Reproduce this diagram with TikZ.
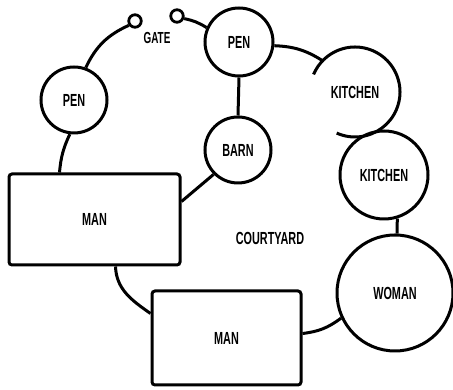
\documentclass[tikz,border=0pt]{standalone}
\usepackage{fontspec}
\newfontfamily\plainfont[FakeStretch=0.62]{Liberation Sans Bold}

\begin{document}
\begin{tikzpicture}[x=1pt, y=1pt,
    every node/.style={font=\plainfont\fontsize{17.5}{17.5}\selectfont},
    place/.style={circle, draw, line width=3pt, inner sep=0pt, minimum size=#1},
    room/.style={rectangle, draw, line width=3pt, rounded corners=3pt, inner sep=0pt},
    post/.style={circle, draw, line width=2.8pt, inner sep=0pt, minimum size=12.5pt},
    link/.style={line width=3pt}]
    \useasboundingbox (0,0) rectangle (453,390);
    % gate
    \node[post] (post1) at (135,369) {};
    \node[post] (post2) at (177,374) {};
    \node[font=\plainfont\fontsize{16}{16}\selectfont] (gate) at (157,352) {GATE};
    % pens and barn
    \node[place=66pt] (pen1) at (74,290) {PEN};
    \node[place=68pt] (pen2) at (239,348) {PEN};
    \node[place=66pt] (barn) at (238,240) {BARN};
    % kitchens, the first one open on the left
    \node[circle, minimum size=90pt, inner sep=0pt, outer sep=0pt] (kitchen1) at (355,298) {KITCHEN};
    \draw[link] (kitchen1.157) arc[start angle=157, end angle=-114, radius=45pt];
    \node[place=88pt] (kitchen2) at (384,215) {KITCHEN};
    \node[place=116pt] (woman) at (395,97) {WOMAN};
    % men
    \node[room, minimum width=171pt, minimum height=91pt] (man1) at (94.5,170.5) {MAN};
    \node[room, minimum width=149pt, minimum height=94pt] (man2) at (226.5,52) {MAN};
    \node (courtyard) at (270,152) {COURTYARD};
    % walls between them
    \draw[link] (post1.215) to[bend right=20] (pen1.70);
    \draw[link] (pen1.263) to[bend right=10] ([xshift=52pt]man1.north west);
    \draw[link] ([xshift=108pt]man1.south west) to[out=-88, in=145] ([yshift=-24pt]man2.north west);
    \draw[link] ([yshift=-44pt]man2.north east) to[bend right=15] (woman.205);
    \draw[link] (kitchen2.287) -- (woman.88);
    \draw[link] (pen2.354) to[bend left=15] (kitchen1.136);
    \draw[link] (pen2.south) -- (barn.north);
    \draw[link] (barn.225) -- ([yshift=-29pt]man1.north east);
    \draw[link] (post2.-20) to[bend left=10] (pen2.156);
\end{tikzpicture}
\end{document}
